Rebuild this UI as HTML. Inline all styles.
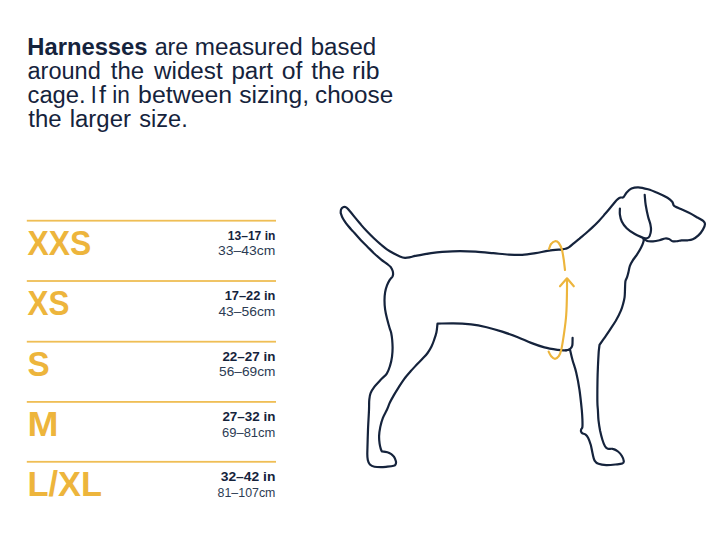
<!DOCTYPE html>
<html><head><meta charset="utf-8"><title>Harness sizing</title>
<style>
html,body{margin:0;padding:0;background:#fff;}
body{width:720px;height:540px;position:relative;overflow:hidden;font-family:"Liberation Sans",sans-serif;}
</style></head><body>
<svg width="720" height="540" viewBox="0 0 720 540" style="position:absolute;left:0;top:0">
<g font-family="Liberation Sans, sans-serif" fill="#15233c" font-size="23">
<text x="27.27" y="54.5" font-weight="bold" textLength="120.25" lengthAdjust="spacingAndGlyphs">Harnesses</text>
<text x="154.7" y="54.5"  textLength="33.6" lengthAdjust="spacingAndGlyphs">are</text>
<text x="194.75" y="54.5"  textLength="107.89" lengthAdjust="spacingAndGlyphs">measured</text>
<text x="310.65" y="54.5"  textLength="65.57" lengthAdjust="spacingAndGlyphs">based</text>
<text x="27.5" y="78.6"  textLength="73.31" lengthAdjust="spacingAndGlyphs">around</text>
<text x="110.8" y="78.6"  textLength="33.32" lengthAdjust="spacingAndGlyphs">the</text>
<text x="154.05" y="78.6"  textLength="68.61" lengthAdjust="spacingAndGlyphs">widest</text>
<text x="231.45" y="78.6"  textLength="41.61" lengthAdjust="spacingAndGlyphs">part</text>
<text x="281.7" y="78.6"  textLength="20.64" lengthAdjust="spacingAndGlyphs">of</text>
<text x="311.3" y="78.6"  textLength="33.74" lengthAdjust="spacingAndGlyphs">the</text>
<text x="351.92" y="78.6"  textLength="27.53" lengthAdjust="spacingAndGlyphs">rib</text>
<text x="27.5" y="102.7"  textLength="58.14" lengthAdjust="spacingAndGlyphs">cage.</text>
<text x="90.73" y="102.7"  textLength="5.96" lengthAdjust="spacingAndGlyphs">I</text>
<text x="99.0" y="102.7"  textLength="7.03" lengthAdjust="spacingAndGlyphs">f</text>
<text x="112.31" y="102.7"  textLength="17.67" lengthAdjust="spacingAndGlyphs">in</text>
<text x="138.12" y="102.7"  textLength="94.04" lengthAdjust="spacingAndGlyphs">between</text>
<text x="239.2" y="102.7"  textLength="69.79" lengthAdjust="spacingAndGlyphs">sizing,</text>
<text x="315.0" y="102.7"  textLength="78.23" lengthAdjust="spacingAndGlyphs">choose</text>
<text x="28.3" y="126.8"  textLength="33.32" lengthAdjust="spacingAndGlyphs">the</text>
<text x="69.76" y="126.8"  textLength="61.19" lengthAdjust="spacingAndGlyphs">larger</text>
<text x="139.2" y="126.8"  textLength="48.53" lengthAdjust="spacingAndGlyphs">size.</text>
</g>
<rect x="26.8" y="219.8" width="249.2" height="1.8" fill="#efbe55"/>
<text x="27.4" y="254.5" font-family="Liberation Sans, sans-serif" font-weight="bold" font-size="35.5" fill="#edb53c" textLength="63.8" lengthAdjust="spacingAndGlyphs">XXS</text>
<text x="275.4" y="240.0" text-anchor="end" font-family="Liberation Sans, sans-serif" font-weight="bold" font-size="12.6" fill="#15233c" textLength="47.6" lengthAdjust="spacingAndGlyphs">13–17 in</text>
<text x="275.4" y="255.4" text-anchor="end" font-family="Liberation Sans, sans-serif" font-size="12.8" fill="#2c3b53" textLength="57.3" lengthAdjust="spacingAndGlyphs">33–43cm</text>
<rect x="26.8" y="280.1" width="249.2" height="1.8" fill="#efbe55"/>
<text x="27.4" y="314.8" font-family="Liberation Sans, sans-serif" font-weight="bold" font-size="35.5" fill="#edb53c" textLength="42.0" lengthAdjust="spacingAndGlyphs">XS</text>
<text x="275.4" y="300.4" text-anchor="end" font-family="Liberation Sans, sans-serif" font-weight="bold" font-size="12.6" fill="#15233c" textLength="50.7" lengthAdjust="spacingAndGlyphs">17–22 in</text>
<text x="275.4" y="315.7" text-anchor="end" font-family="Liberation Sans, sans-serif" font-size="12.8" fill="#2c3b53" textLength="57.0" lengthAdjust="spacingAndGlyphs">43–56cm</text>
<rect x="26.8" y="340.8" width="249.2" height="1.8" fill="#efbe55"/>
<text x="27.4" y="375.5" font-family="Liberation Sans, sans-serif" font-weight="bold" font-size="35.5" fill="#edb53c" textLength="22.2" lengthAdjust="spacingAndGlyphs">S</text>
<text x="275.4" y="361.1" text-anchor="end" font-family="Liberation Sans, sans-serif" font-weight="bold" font-size="12.6" fill="#15233c" textLength="53.0" lengthAdjust="spacingAndGlyphs">22–27 in</text>
<text x="275.4" y="376.4" text-anchor="end" font-family="Liberation Sans, sans-serif" font-size="12.8" fill="#2c3b53" textLength="56.3" lengthAdjust="spacingAndGlyphs">56–69cm</text>
<rect x="26.8" y="401.0" width="249.2" height="1.8" fill="#efbe55"/>
<text x="27.6" y="435.7" font-family="Liberation Sans, sans-serif" font-weight="bold" font-size="35.5" fill="#edb53c" textLength="31.0" lengthAdjust="spacingAndGlyphs">M</text>
<text x="275.4" y="421.2" text-anchor="end" font-family="Liberation Sans, sans-serif" font-weight="bold" font-size="12.6" fill="#15233c" textLength="53.0" lengthAdjust="spacingAndGlyphs">27–32 in</text>
<text x="275.4" y="436.6" text-anchor="end" font-family="Liberation Sans, sans-serif" font-size="12.8" fill="#2c3b53" textLength="53.4" lengthAdjust="spacingAndGlyphs">69–81cm</text>
<rect x="26.8" y="460.9" width="249.2" height="1.8" fill="#efbe55"/>
<text x="27.4" y="495.6" font-family="Liberation Sans, sans-serif" font-weight="bold" font-size="35.5" fill="#edb53c" textLength="74.5" lengthAdjust="spacingAndGlyphs">L/XL</text>
<text x="275.4" y="481.2" text-anchor="end" font-family="Liberation Sans, sans-serif" font-weight="bold" font-size="12.6" fill="#15233c" textLength="54.7" lengthAdjust="spacingAndGlyphs">32–42 in</text>
<text x="275.4" y="496.5" text-anchor="end" font-family="Liberation Sans, sans-serif" font-size="12.8" fill="#2c3b53" textLength="57.8" lengthAdjust="spacingAndGlyphs">81–107cm</text>
<g fill="none" stroke="#15233c" stroke-width="2.2" stroke-linecap="round" stroke-linejoin="round">
<path d="M340.7 213.0C340.8 212.4 340.6 210.5 341.0 209.6C341.4 208.7 342.1 207.8 342.8 207.4C343.5 207.0 344.4 206.7 345.3 207.0C346.2 207.3 346.5 207.4 348.0 209.1C349.5 210.8 352.4 214.3 354.5 216.9C356.6 219.5 358.8 222.1 360.9 224.6C363.0 227.1 365.2 229.5 367.4 231.8C369.6 234.1 371.7 236.2 373.9 238.3C376.1 240.4 378.2 242.3 380.4 244.1C382.6 245.9 384.7 247.8 386.9 249.3C389.1 250.8 391.2 252.0 393.4 253.2C395.6 254.4 398.0 255.6 399.9 256.4C401.8 257.2 403.3 257.7 405.0 257.8C406.7 257.9 408.5 257.5 410.2 257.2C411.9 256.9 413.4 256.2 415.0 255.9C416.6 255.6 417.3 255.6 420.0 255.1C422.7 254.6 427.4 253.8 431.1 253.2C434.8 252.6 437.4 252.2 442.2 251.8C447.0 251.5 454.4 251.1 460.0 251.1C465.6 251.1 470.1 251.3 475.6 251.7C481.2 252.0 487.8 252.7 493.3 253.2C498.9 253.7 504.1 254.3 508.9 254.6C513.7 254.9 517.8 255.1 522.2 254.9C526.7 254.7 531.2 253.9 535.6 253.2C540.0 252.5 544.5 251.2 548.9 250.6C553.3 249.9 559.4 249.6 562.2 249.3C565.1 249.0 564.8 249.0 566.0 248.6C567.2 248.2 568.3 247.6 569.5 246.8C570.7 246.0 571.3 245.2 573.0 243.8C574.7 242.4 577.4 240.3 579.5 238.6C581.6 236.8 583.8 235.2 585.9 233.3C588.0 231.4 590.2 229.5 592.4 227.4C594.6 225.3 596.7 223.2 598.9 220.9C601.1 218.6 603.2 216.1 605.4 213.6C607.6 211.1 610.3 207.7 611.9 205.8C613.5 203.9 614.1 203.1 615.0 202.0C615.9 200.9 616.6 200.0 617.5 199.3C618.4 198.6 619.5 198.0 620.5 197.6C621.5 197.2 622.5 198.0 623.5 197.1C624.5 196.2 625.4 193.8 626.7 192.4C628.0 191.0 629.6 189.3 631.5 188.5C633.4 187.7 635.5 187.2 638.3 187.3C641.0 187.4 644.8 188.4 648.0 189.3C651.2 190.2 654.5 191.6 657.8 193.0C661.0 194.4 665.1 196.4 667.5 197.8C669.9 199.2 671.1 200.4 672.2 201.7C673.3 203.0 673.0 204.8 674.0 205.8C675.0 206.9 676.1 206.9 678.5 208.0C680.9 209.1 685.2 211.0 688.5 212.6C691.8 214.2 695.5 216.4 698.0 217.8C700.5 219.2 702.0 219.9 703.2 220.9C704.4 221.9 705.0 222.6 705.0 224.0C705.0 225.4 704.0 227.7 702.9 229.6C701.8 231.5 700.1 233.8 698.4 235.4C696.7 237.0 694.6 238.4 692.8 239.2C691.0 240.0 689.4 240.1 687.5 240.3C685.6 240.5 683.2 240.2 681.5 240.3C679.8 240.5 679.0 241.0 677.5 241.2C676.0 241.3 673.9 241.6 672.5 241.2C671.1 240.8 670.2 239.4 669.0 239.0C667.8 238.6 666.8 238.3 665.2 238.5C663.6 238.7 661.5 239.7 659.5 240.2C657.5 240.7 655.1 241.2 653.0 241.3C650.9 241.4 648.7 241.5 647.1 241.0C645.5 240.5 643.9 238.6 643.2 238.1C643.3 238.6 644.0 239.7 643.6 241.3C643.2 242.9 642.1 245.6 641.0 247.8C639.9 250.0 638.5 252.1 637.1 254.3C635.7 256.5 633.7 258.9 632.5 260.8C631.3 262.7 630.6 264.0 629.9 265.9C629.2 267.8 628.9 270.5 628.4 272.4C627.9 274.3 627.5 275.9 627.0 277.4C626.5 278.9 625.7 279.4 625.4 281.4C625.1 283.4 625.1 286.7 625.0 289.3C624.9 291.9 624.9 294.7 624.6 297.1C624.3 299.5 623.8 301.3 623.2 303.5C622.6 305.7 622.2 307.5 621.0 310.4C619.8 313.3 617.6 317.6 615.8 320.8C613.9 324.0 611.8 326.9 609.9 329.8C608.0 332.7 605.8 335.8 604.1 338.3C602.4 340.8 600.3 343.9 599.5 345.0C599.4 346.1 599.0 348.6 598.7 351.9C598.5 355.2 598.2 360.3 598.0 365.0C597.8 369.7 597.6 373.8 597.5 380.0C597.4 386.2 597.3 397.5 597.4 402.5C597.5 407.5 597.7 407.0 597.9 410.0C598.1 413.0 598.1 416.9 598.5 420.4C598.9 423.9 599.5 427.6 600.1 430.8C600.8 434.0 601.6 437.2 602.4 439.8C603.2 442.4 604.1 444.8 605.0 446.3C605.9 447.8 606.5 448.4 607.8 448.8C609.1 449.2 611.1 448.4 612.8 448.9C614.5 449.3 616.5 450.3 618.0 451.5C619.5 452.7 620.9 454.4 621.9 456.0C622.9 457.6 623.7 459.9 623.8 461.2C623.9 462.4 623.7 462.9 622.3 463.5C620.9 464.1 618.1 464.2 615.4 464.5C612.7 464.8 609.1 465.2 606.3 465.1C603.5 465.0 600.5 464.6 598.5 463.8C596.5 463.1 595.6 462.2 594.6 460.6C593.6 459.0 593.3 456.7 592.7 454.1C592.1 451.5 591.5 447.7 590.8 445.0C590.0 442.3 589.1 439.6 588.2 437.9C587.3 436.2 586.6 435.4 585.6 434.6C584.6 433.8 583.1 433.8 582.3 433.3C581.5 432.8 581.2 432.1 581.0 431.4C580.8 430.7 581.0 430.0 581.2 429.3C581.4 428.6 582.2 428.7 582.4 427.0C582.6 425.3 582.5 421.9 582.4 419.1C582.3 416.3 582.2 414.9 581.8 410.0C581.3 405.1 580.4 396.2 579.5 390.0C578.6 383.8 577.4 377.5 576.2 372.5C575.1 367.5 573.5 363.8 572.5 360.0C571.5 356.2 570.4 351.2 570.0 349.5C569.2 349.6 567.0 350.2 565.0 350.3C563.0 350.4 561.2 350.4 557.8 349.9C554.4 349.4 548.8 348.6 544.4 347.4C540.0 346.2 535.5 344.6 531.1 342.9C526.7 341.2 522.6 339.1 517.8 337.2C513.0 335.3 507.4 333.3 502.2 331.6C497.0 329.9 491.9 328.4 486.7 327.2C481.5 326.0 476.7 325.0 471.1 324.4C465.5 323.8 458.9 323.4 453.3 323.3C447.7 323.2 440.1 323.6 437.5 323.6C437.3 325.1 437.0 329.8 436.4 332.5C435.8 335.2 434.9 337.7 434.1 340.0C433.3 342.3 432.6 344.3 431.5 346.5C430.4 348.7 429.1 350.9 427.6 353.0C426.1 355.1 424.1 357.0 422.4 358.8C420.7 360.6 419.2 361.9 417.3 364.0C415.4 366.1 413.0 368.6 410.8 371.1C408.6 373.6 406.2 376.3 404.3 378.9C402.4 381.5 400.8 384.0 399.1 386.7C397.4 389.4 395.4 392.5 393.9 395.1C392.4 397.7 391.2 399.8 390.0 402.3C388.8 404.8 388.0 407.4 386.8 410.0C385.6 412.6 384.0 415.0 382.9 417.8C381.8 420.6 380.9 423.9 380.3 426.9C379.7 429.9 379.2 433.1 379.1 435.9C379.0 438.7 379.3 441.6 379.6 443.7C379.9 445.8 380.3 447.3 380.7 448.6C381.1 449.9 381.6 450.9 381.8 451.3C382.7 451.4 385.8 451.7 387.4 452.2C389.0 452.7 390.2 453.4 391.3 454.1C392.4 454.9 393.1 455.5 393.9 456.7C394.7 457.9 395.6 459.9 395.9 461.2C396.2 462.5 396.0 463.5 395.6 464.3C395.2 465.1 395.1 465.4 393.7 465.8C392.3 466.2 389.5 466.5 387.4 466.7C385.3 466.9 383.0 467.2 380.9 467.2C378.8 467.2 376.3 467.2 374.5 466.8C372.7 466.4 371.0 465.6 369.9 464.5C368.8 463.4 368.2 461.6 367.8 459.9C367.4 458.2 367.3 457.0 367.3 454.1C367.3 451.2 367.5 446.5 367.6 442.4C367.7 438.3 367.8 434.9 368.0 429.5C368.2 424.1 368.8 415.0 369.0 410.0C369.2 405.0 369.0 402.5 369.3 399.7C369.6 396.9 369.7 395.4 370.6 393.2C371.5 391.0 372.8 389.0 374.5 386.7C376.2 384.4 378.8 381.8 380.9 379.6C382.9 377.4 385.3 376.0 386.8 373.7C388.3 371.4 389.1 368.7 390.0 365.9C390.9 363.1 391.6 359.9 392.0 356.9C392.4 353.9 392.6 350.6 392.6 347.8C392.6 345.0 392.4 342.5 392.2 340.0C392.0 337.5 391.6 335.0 391.2 333.0C390.8 331.0 390.3 330.4 389.6 328.0C388.9 325.6 387.8 321.5 387.0 318.4C386.2 315.3 385.5 312.3 385.1 309.3C384.7 306.3 384.5 303.0 384.5 300.2C384.5 297.4 384.7 294.9 385.1 292.4C385.5 289.9 386.2 287.4 387.0 285.3C387.8 283.2 388.7 281.6 389.6 280.1C390.5 278.7 392.0 277.2 392.5 276.6C392.6 276.2 393.1 275.2 393.1 274.3C393.1 273.4 393.1 272.2 392.7 271.0C392.3 269.8 391.8 268.5 390.9 267.3C389.9 266.1 388.6 265.2 387.0 263.9C385.4 262.6 383.4 261.4 381.2 259.6C379.0 257.8 376.2 255.3 373.9 253.2C371.6 251.0 369.6 248.9 367.4 246.7C365.2 244.5 363.0 242.5 360.9 240.2C358.8 237.9 356.1 234.9 354.5 233.1C352.9 231.3 352.3 230.6 351.2 229.4C350.1 228.2 349.1 227.0 348.0 225.7C346.9 224.4 345.8 223.1 344.9 221.7C344.0 220.3 343.1 218.9 342.4 217.5C341.7 216.1 341.0 213.8 340.7 213.0Z"/>
<path d="M619.9 208.5C619.9 209.5 619.6 212.5 619.9 214.7C620.2 216.9 620.7 219.2 621.8 221.5C622.9 223.8 624.6 226.2 626.7 228.3C628.8 230.4 631.6 232.2 634.4 233.8C637.1 235.4 641.7 237.2 643.2 237.9C643.9 238.0 646.0 238.6 647.1 238.3C648.2 238.0 649.0 237.4 649.6 236.1C650.2 234.8 650.9 232.2 651.0 230.3C651.1 228.4 650.9 226.7 650.4 224.4C649.9 222.1 648.9 219.9 648.1 216.7C647.3 213.5 646.3 208.6 645.7 205.0C645.1 201.4 644.9 196.6 644.7 194.9"/>
<path d="M566.0 350.4C566.7 350.2 569.0 349.8 570.0 349.0C571.0 348.2 571.9 347.4 572.3 345.5C572.7 343.6 572.5 339.1 572.6 337.8"/>
</g>
<g fill="none" stroke="#edb53c" stroke-width="2.15" stroke-linecap="round" stroke-linejoin="round">
<path d="M549.0 248.9C549.4 248.0 550.2 245.0 551.2 243.8C552.2 242.5 553.8 241.4 555.0 241.2C556.2 241.1 557.6 241.5 558.8 243.0C559.9 244.5 561.2 247.2 562.0 250.0C562.8 252.8 563.2 256.7 563.8 260.0C564.2 263.3 564.8 268.3 565.0 270.0"/>
<path d="M567.0 279.0C567.0 280.8 567.1 284.0 567.0 290.0C566.9 296.0 566.8 307.5 566.2 315.0C565.7 322.5 564.6 329.2 563.8 335.0C562.9 340.8 562.1 346.5 561.2 350.0C560.4 353.5 559.8 354.8 558.8 356.2C557.7 357.7 556.2 358.8 555.0 358.8C553.8 358.8 552.3 357.4 551.2 356.2C550.2 355.1 549.0 352.4 548.6 351.6"/>
<path d="M560 286.3L567 278.3L573.8 286.3"/>
</g>
</svg>
</body></html>
